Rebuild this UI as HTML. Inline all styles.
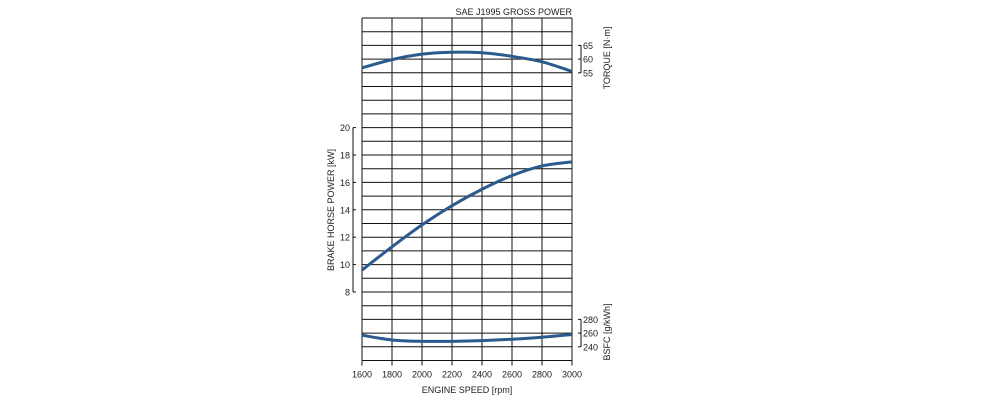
<!DOCTYPE html>
<html><head><meta charset="utf-8"><style>
body{margin:0;background:#fff;}
svg text{font-family:"Liberation Sans",Arial,sans-serif;fill:#222;}
</style></head><body>
<svg id="chart" width="1000" height="407" viewBox="0 0 1000 407" xmlns="http://www.w3.org/2000/svg">
<g id="grid"></g>
<g id="axes"></g>
<g id="curves"></g>
<text x="572" y="15" font-size="9" text-anchor="end">SAE J1995 GROSS POWER</text>
<text x="467" y="393" font-size="9" text-anchor="middle">ENGINE SPEED [rpm]</text>
<text transform="translate(334,210) rotate(-90)" font-size="9" text-anchor="middle">BRAKE HORSE POWER [kW]</text>
<text transform="translate(610,58) rotate(-90)" font-size="9" text-anchor="middle">TORQUE [N·m]</text>
<text transform="translate(610,332) rotate(-90)" font-size="9" text-anchor="middle">BSFC [g/kWh]</text>
</svg>
<script>
const rpm = [1600,1800,2000,2200,2400,2600,2800,3000];
const powerKW = [9.6,11.3,12.9,14.3,15.5,16.5,17.2,17.5];
const torqueNm = [56.8,59.8,61.8,62.5,62.3,61.0,59.0,55.5];
const bsfc = [257,250,248,248,249,251,254,258];
const xTicks = [1600,1800,2000,2200,2400,2600,2800,3000];
const powerTicks = [8,10,12,14,16,18,20];
const torqueTicks = [55,60,65];
const bsfcTicks = [240,260,280];

const L=362,R=572,T=18,B=360.5,rowH=(B-T)/25;
const NS="http://www.w3.org/2000/svg";
const xs=v=>L+(v-1600)/1400*(R-L);
const yP=v=>T+8*rowH+(20-v)*rowH;
const yT=v=>T+2*rowH+(65-v)*rowH/5;
const yB=v=>T+22*rowH+(280-v)*rowH/20;
function mk(tag,attrs,parent){const e=document.createElementNS(NS,tag);for(const k in attrs)e.setAttribute(k,attrs[k]);parent.appendChild(e);return e;}
const grid=document.getElementById('grid'),axes=document.getElementById('axes'),curves=document.getElementById('curves');
for(let i=0;i<=25;i++){const y=T+i*rowH;const l=mk('line',{x1:L,x2:R,y1:y,y2:y,stroke:'#111','stroke-width':1},grid);

}
xTicks.forEach(v=>{const x=xs(v);const l=mk('line',{x1:x,x2:x,y1:T,y2:B,stroke:'#111','stroke-width':1},grid);


mk('line',{x1:x,x2:x,y1:B,y2:B+5,stroke:'#111'},axes);
const t=mk('text',{x:x,y:B+17,'font-size':9,'text-anchor':'middle'},axes);t.textContent=v;

});
function sideAxis(ticks,f,ax,dir,name,lx,anchor){
 mk('line',{x1:ax,x2:ax,y1:f(ticks[0]),y2:f(ticks[ticks.length-1]),stroke:'#111'},axes);
 ticks.forEach(v=>{const y=f(v);mk('line',{x1:ax,x2:ax+3*dir,y1:y,y2:y,stroke:'#111'},axes);
 const t=mk('text',{x:lx,y:y+3.5,'font-size':9,'text-anchor':anchor},axes);t.textContent=v;
 
 });}
sideAxis(powerTicks,yP,353,1,'power-tick-label',350,'end');
sideAxis(torqueTicks,yT,581,-1,'torque-tick-label',583,'start');
sideAxis(bsfcTicks,yB,581,-1,'bsfc-tick-label',583,'start');
function curve(vals,f,name){
 const p=rpm.map((r,i)=>[xs(r),f(vals[i])]);
 let d='M'+p[0][0]+','+p[0][1];
 for(let i=0;i<p.length-1;i++){const p0=p[Math.max(0,i-1)],p1=p[i],p2=p[i+1],p3=p[Math.min(p.length-1,i+2)];
  d+=' C'+(p1[0]+(p2[0]-p0[0])/6)+','+(p1[1]+(p2[1]-p0[1])/6)+' '+(p2[0]-(p3[0]-p1[0])/6)+','+(p2[1]-(p3[1]-p1[1])/6)+' '+p2[0]+','+p2[1];}
 const e=mk('path',{d:d,fill:'none',stroke:'#2b5b8c','stroke-width':3},curves);
 
 }
curve(torqueNm,yT,'torque-curve');
curve(powerKW,yP,'power-curve');
curve(bsfc,yB,'bsfc-curve');
</script>
</body></html>
